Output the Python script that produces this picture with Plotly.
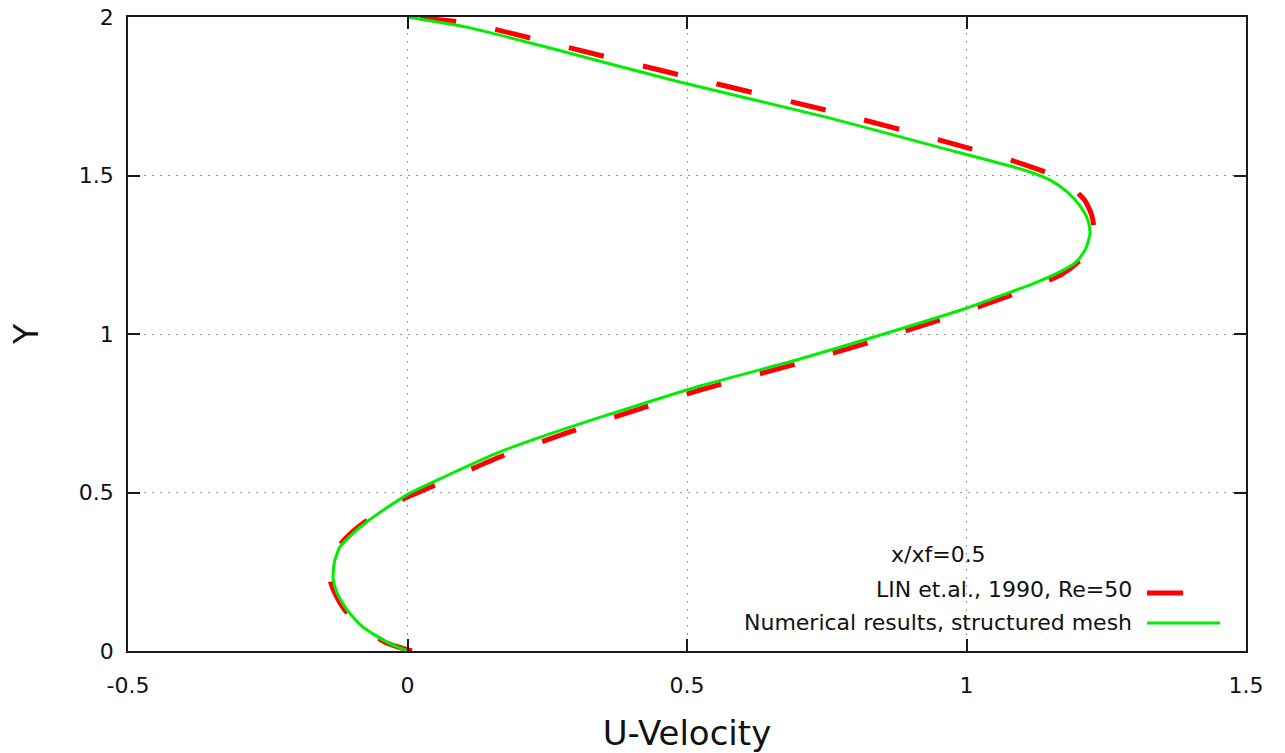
import plotly.graph_objects as go

# ---- Data ----
# Numerical results, structured mesh (green solid)
num_u = [0.0, -0.037, -0.080, -0.108, -0.126, -0.133, -0.131, -0.121, -0.097, -0.071,
         -0.035, 0.004, 0.058, 0.165, 0.285, 0.403, 0.523, 0.702, 0.858, 1.001,
         1.060, 1.114, 1.167, 1.196, 1.213, 1.221, 1.217, 1.203, 1.180, 1.149,
         1.114, 1.078, 1.024, 0.970, 0.756, 0.487, 0.255, 0.106, 0.0]
num_y = [0.0, 0.028, 0.076, 0.129, 0.183, 0.227, 0.278, 0.328, 0.372, 0.410,
         0.454, 0.498, 0.543, 0.628, 0.703, 0.770, 0.836, 0.921, 1.003, 1.082,
         1.120, 1.155, 1.196, 1.227, 1.268, 1.319, 1.360, 1.404, 1.448, 1.486,
         1.511, 1.530, 1.555, 1.580, 1.681, 1.795, 1.902, 1.968, 2.0]

# LIN et.al., 1990, Re=50 (red dashed)
lin_u = [0.008, -0.037, -0.081, -0.112, -0.130, -0.139, -0.135, -0.124, -0.101, -0.074,
         -0.038, 0.004, 0.058, 0.165, 0.285, 0.403, 0.523, 0.702, 0.858, 1.001,
         1.114, 1.171, 1.203, 1.221, 1.228, 1.224, 1.211, 1.185, 1.149, 1.078,
         0.970, 0.756, 0.487, 0.255, 0.106, 0.0]
lin_y = [0.0, 0.025, 0.076, 0.129, 0.183, 0.227, 0.278, 0.328, 0.372, 0.410,
         0.451, 0.489, 0.530, 0.612, 0.688, 0.757, 0.823, 0.909, 0.991, 1.073,
         1.145, 1.189, 1.233, 1.281, 1.328, 1.375, 1.423, 1.467, 1.505, 1.549,
         1.603, 1.703, 1.817, 1.918, 1.981, 2.0]

x_ticks = [-0.5, 0, 0.5, 1, 1.5]
x_tick_labels = ["-0.5", "0", "0.5", "1", "1.5"]
y_ticks = [0, 0.5, 1, 1.5, 2]
y_tick_labels = ["0", "0.5", "1", "1.5", "2"]

legend_title = "x/xf=0.5"
lin_name = "LIN et.al., 1990, Re=50"
num_name = "Numerical results, structured mesh"

RED = "#ff0000"
GREEN = "#00ee00"
AX = "#1a1a1a"
TXT = "#111111"

# ---- Layout geometry (pixels) ----
W, H = 1285, 753
L, R, T, B = 128, 1246, 17, 651


def px_x(p):
    return (p - L) / (R - L)


def px_y(p):
    return (B - p) / (B - T)


fig = go.Figure()
fig.add_trace(go.Scatter(x=lin_u, y=lin_y, mode="lines", name=lin_name,
                         line=dict(color=RED, width=5, dash="36px,40px",
                                   shape="spline", smoothing=0.6)))
fig.add_trace(go.Scatter(x=num_u, y=num_y, mode="lines", name=num_name,
                         line=dict(color=GREEN, width=3,
                                   shape="spline", smoothing=0.6)))

axis_common = dict(
    ticks="inside", ticklen=12, tickwidth=1.5, tickcolor=AX,
    showline=True, linecolor=AX, linewidth=1.5, mirror="ticks",
    showgrid=True, gridcolor="#9a9a9a", gridwidth=1, griddash="2px,6px",
    zeroline=False, automargin=False, ticklabeloverflow="allow",
    tickfont=dict(family="DejaVu Sans", size=22, color=TXT),
)

fig.update_layout(
    width=W, height=H,
    margin=dict(l=L, r=W - R, t=T, b=H - B, pad=0),
    plot_bgcolor="white", paper_bgcolor="white",
    showlegend=False,
    font=dict(family="DejaVu Sans", size=22, color=TXT),
    xaxis=dict(range=[-0.5, 1.5], tickvals=x_ticks, ticktext=x_tick_labels,
               ticklabelstandoff=14,
               title=dict(text="U-Velocity", font=dict(size=34, color=TXT), standoff=27),
               **axis_common),
    yaxis=dict(range=[0, 2], tickvals=y_ticks, ticktext=y_tick_labels,
               ticklabelstandoff=8,
               title=dict(text="Y", font=dict(size=33, color=TXT), standoff=30),
               **axis_common),
)

# key area blanks the grid (as in gnuplot)
fig.add_shape(type="rect", xref="paper", yref="paper",
              x0=px_x(640), x1=px_x(1244), y0=px_y(649), y1=px_y(543),
              fillcolor="white", line=dict(width=0), layer="between")

# key (text to the left, sample to the right)
fig.add_annotation(text=legend_title, xref="paper", yref="paper",
                   x=px_x(938), y=px_y(554), xanchor="center", yanchor="middle",
                   showarrow=False, font=dict(size=22, color=TXT))
fig.add_annotation(text=lin_name, xref="paper", yref="paper",
                   x=px_x(1134), y=px_y(589), xanchor="right", yanchor="middle",
                   showarrow=False, font=dict(size=22, color=TXT))
fig.add_annotation(text=num_name, xref="paper", yref="paper",
                   x=px_x(1134), y=px_y(622), xanchor="right", yanchor="middle",
                   showarrow=False, font=dict(size=22, color=TXT))
fig.add_shape(type="line", xref="paper", yref="paper",
              x0=px_x(1147), x1=px_x(1220), y0=px_y(593), y1=px_y(593),
              line=dict(color=RED, width=5, dash="36px,40px"))
fig.add_shape(type="line", xref="paper", yref="paper",
              x0=px_x(1147), x1=px_x(1220), y0=px_y(623), y1=px_y(623),
              line=dict(color=GREEN, width=3))

fig.write_html("out.html",
               config={"displayModeBar": False},
               post_script="document.body.style.margin='0';"
                           "document.body.style.overflow='hidden';")
